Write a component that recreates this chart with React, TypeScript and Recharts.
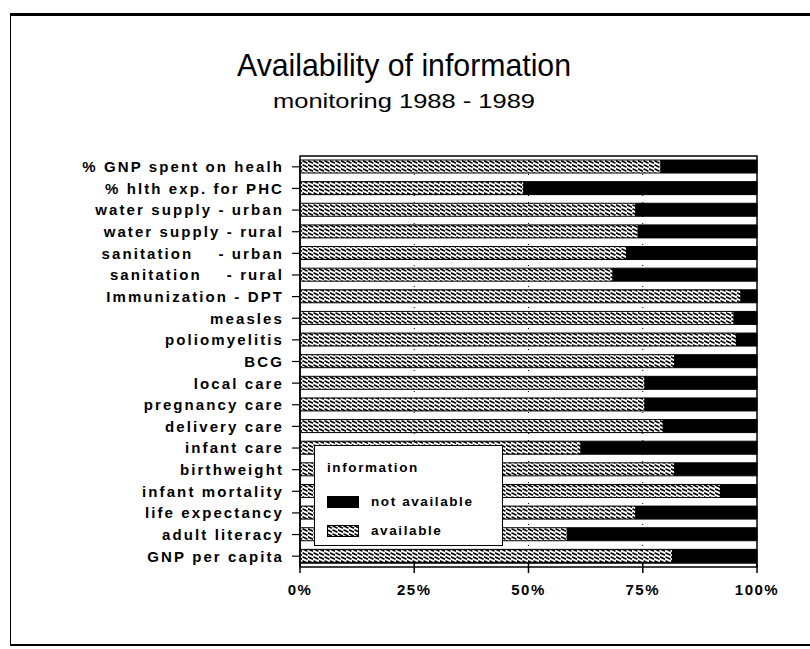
import React from "react";
import {
  BarChart,
  Bar,
  XAxis,
  YAxis,
  CartesianGrid,
  ReferenceArea,
} from "recharts";

const categories = [
  "% GNP spent on healh",
  "% hlth exp. for PHC",
  "water supply - urban",
  "water supply - rural",
  "sanitation    - urban",
  "sanitation    - rural",
  "Immunization - DPT",
  "measles",
  "poliomyelitis",
  "BCG",
  "local care",
  "pregnancy care",
  "delivery care",
  "infant care",
  "birthweight",
  "infant mortality",
  "life expectancy",
  "adult literacy",
  "GNP per capita",
];

// % of countries with information available
const available = [
  79, 49, 73.5, 74, 71.5, 68.5, 96.5, 95, 95.5, 82, 75.5, 75.5, 79.5, 61.5, 82, 92,
  73.5, 58.5, 81.5,
];

const xTicks = [0, 25, 50, 75, 100];

const legendItems = [
  { label: "not available", fill: "#000" },
  { label: "available", fill: "url(#hatch)" },
];

const data = categories.map((name, i) => ({
  name,
  available: available[i],
  notAvailable: 100 - available[i],
}));

const font = "'Liberation Sans', Arial, Helvetica, sans-serif";

const YTick = (props: any) => {
  const { x, y, payload } = props;
  return (
    <text
      x={x}
      y={y}
      dy="0.36em"
      textAnchor="end"
      fontFamily={font}
      fontWeight={700}
      fontSize={15}
      letterSpacing={2.1}
      fill="#000"
      style={{ whiteSpace: "pre" }}
    >
      {payload.value}
    </text>
  );
};

const LegendBox = () => (
  <div
    style={{
      position: "absolute",
      left: 314,
      top: 445,
      width: 189,
      height: 101,
      boxSizing: "border-box",
      border: "1.5px solid #000",
      background: "#fff",
      fontFamily: font,
      fontWeight: 700,
      fontSize: 13.5,
      letterSpacing: 1.6,
      padding: "14px 0 0 12px",
    }}
  >
    <div style={{ height: 27 }}>information</div>
    {legendItems.map((it) => (
      <div key={it.label} style={{ display: "flex", alignItems: "center", height: 29 }}>
        <svg width={32} height={12} style={{ marginRight: 12 }}>
          <rect x={0.5} y={0.5} width={31} height={11} fill={it.fill} stroke="#000" />
        </svg>
        <span>{it.label}</span>
      </div>
    ))}
  </div>
);

export default function App() {
  return (
    <div style={{ position: "absolute", left: 0, top: 0, width: 810, height: 649, background: "#fff" }}>
      <svg width={0} height={0} style={{ position: "absolute" }}>
        <defs>
          <pattern id="hatch" patternUnits="userSpaceOnUse" width={11} height={4}>
            <rect width={11} height={4} fill="#fff" />
            <path d="M0,0.8 L5,3.2 M5.5,0.8 L10.5,3.2" stroke="#000" strokeWidth={1.5} />
          </pattern>
        </defs>
      </svg>
      <div
        style={{
          position: "absolute",
          left: 10,
          top: 13,
          width: 820,
          height: 628,
          borderTop: "3px solid #000",
          borderLeft: "1.5px solid #000",
          borderBottom: "2px solid #000",
        }}
      />
      <svg width={810} height={130} style={{ position: "absolute", left: 0, top: 0 }}>
        <text
          x={404}
          y={76}
          textAnchor="middle"
          fontFamily={font}
          fontSize={32}
          textLength={334}
          lengthAdjust="spacingAndGlyphs"
        >
          Availability of information
        </text>
        <text
          x={404}
          y={108}
          textAnchor="middle"
          fontFamily={font}
          fontSize={21}
          textLength={262}
          lengthAdjust="spacingAndGlyphs"
        >
          monitoring 1988 - 1989
        </text>
      </svg>
      <div style={{ position: "absolute", left: 0, top: 0 }}>
        <BarChart
          width={810}
          height={649}
          data={data}
          layout="vertical"
          margin={{ top: 160, right: 53, bottom: 35, left: 0 }}
          barSize={13}
        >
          <CartesianGrid
            horizontal={false}
            stroke="#000"
            strokeDasharray="1 6"
            verticalValues={[25, 50, 75]}
          />
          <XAxis
            type="number"
            domain={[0, 100]}
            ticks={xTicks}
            tickFormatter={(v: number) => `${v}%`}
            axisLine={{ stroke: "#000", strokeWidth: 1.5 }}
            tickLine={{ stroke: "#000", strokeWidth: 1.5 }}
            tickSize={10}
            tickMargin={11}
            height={51}
            interval={0}
            tick={{
              fill: "#000",
              fontFamily: font,
              fontWeight: 700,
              fontSize: 15,
              letterSpacing: 1.5,
            }}
          />
          <YAxis
            type="category"
            dataKey="name"
            width={300}
            interval={0}
            padding={{ top: -4, bottom: -4 }}
            axisLine={{ stroke: "#000", strokeWidth: 1.5 }}
            tickLine={{ stroke: "#000", strokeWidth: 1.2 }}
            tickSize={8}
            tickMargin={8}
            tick={<YTick />}
          />
          <Bar
            dataKey="available"
            name="available"
            stackId="a"
            fill="url(#hatch)"
            stroke="#000"
            strokeWidth={1}
            isAnimationActive={false}
          />
          <Bar
            dataKey="notAvailable"
            name="not available"
            stackId="a"
            fill="#000"
            stroke="#000"
            strokeWidth={1}
            isAnimationActive={false}
          />
          <ReferenceArea x1={0} x2={100} fill="none" stroke="#000" strokeWidth={1.5} ifOverflow="visible" />
        </BarChart>
      </div>
      <LegendBox />
    </div>
  );
}
